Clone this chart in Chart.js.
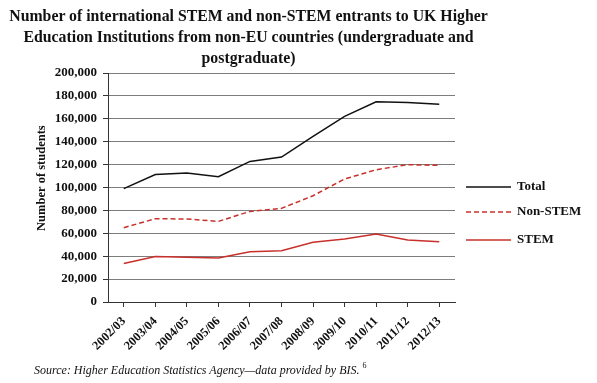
<!DOCTYPE html>
<html>
<head>
<meta charset="utf-8">
<script src="https://cdn.jsdelivr.net/npm/chart.js@4.4.1/dist/chart.umd.min.js"></script>
<style>
  html, body { margin: 0; padding: 0; background: #fff; }
  #wrap { position: relative; width: 597px; height: 383px; overflow: hidden; }
  #chart { position: absolute; left: 0; top: 0; }
  #title {
    position: absolute; left: 0; top: 5px; width: 497px; text-align: center;
    font-family: 'Liberation Serif', 'DejaVu Serif', serif; font-weight: bold;
    font-size: 15.8px; line-height: 21px; color: #111; white-space: nowrap;
  }
  #source {
    position: absolute; left: 34px; top: 361px;
    font-family: 'Liberation Serif', 'DejaVu Serif', serif; font-style: italic;
    font-size: 12px; color: #111; white-space: nowrap;
  }
  #source sup { font-size: 8px; font-style: normal; vertical-align: 6px; margin-left: 3px; }
</style>
</head>
<body>
<div id="wrap">
  <canvas id="chart" width="597" height="383"></canvas>
  <div id="title">Number of international STEM and non-STEM entrants to UK Higher<br>Education Institutions from non-EU countries (undergraduate and<br>postgraduate)</div>
  <div id="source">Source: Higher Education Statistics Agency—data provided by BIS.<sup>6</sup></div>
</div>
<script>
const years = ['2002/03', '2003/04', '2004/05', '2005/06', '2006/07', '2007/08', '2008/09', '2009/10', '2010/11', '2011/12', '2012/13'];
const totalValues = [99000, 111400, 112700, 109400, 122800, 126600, 144600, 162100, 174900, 174300, 172600];
const nonStemValues = [64900, 72700, 72500, 70400, 79100, 81800, 92800, 107400, 115500, 119900, 119300];
const stemValues = [33700, 39800, 39000, 38400, 43900, 44800, 52100, 55000, 59400, 54100, 52700];
const seriesNames = ['Total', 'Non-STEM', 'STEM'];
const yAxisTitle = 'Number of students';

const SERIF = "'Liberation Serif', 'DejaVu Serif', serif";
const RED = '#c8302a';

// legend drawn at the right of the plot, like the original
const sideLegend = {
  id: 'sideLegend',
  afterDraw(chart) {
    const ctx = chart.ctx;
    const rows = [187, 212, 240];
    ctx.save();
    chart.data.datasets.forEach((ds, i) => {
      const y = rows[i];
      ctx.beginPath();
      ctx.strokeStyle = ds.borderColor;
      ctx.lineWidth = ds.borderWidth;
      ctx.setLineDash(ds.borderDash || []);
      ctx.moveTo(466, y);
      ctx.lineTo(511, y);
      ctx.stroke();
      ctx.setLineDash([]);
      ctx.fillStyle = '#111';
      ctx.font = 'bold 13px ' + SERIF;
      ctx.textBaseline = 'middle';
      ctx.fillText(ds.label, 517, y);
    });
    ctx.restore();
  }
};

new Chart(document.getElementById('chart').getContext('2d'), {
  type: 'line',
  data: {
    labels: years,
    datasets: [
      { label: seriesNames[0], data: totalValues, borderColor: '#111', borderWidth: 1.5 },
      { label: seriesNames[1], data: nonStemValues, borderColor: RED, borderWidth: 1.5, borderDash: [5, 3] },
      { label: seriesNames[2], data: stemValues, borderColor: RED, borderWidth: 1.5 }
    ]
  },
  options: {
    responsive: false,
    animation: false,
    elements: { line: { tension: 0, fill: false }, point: { radius: 0, hoverRadius: 0 } },
    layout: { padding: { left: 30, right: 142, top: 73, bottom: 0 } },
    plugins: { legend: { display: false }, tooltip: { enabled: false } },
    scales: {
      x: {
        offset: true,
        afterFit: s => { s.height = 81; },
        grid: { drawOnChartArea: false, drawTicks: true, tickLength: 5, color: '#333' },
        border: { color: '#333', width: 1 },
        ticks: { color: '#111', maxRotation: 45, minRotation: 45, padding: 7, font: { family: SERIF, weight: 'bold', size: 12.5 } }
      },
      y: {
        min: 0, max: 200000,
        afterFit: s => { s.width = 78; },
        grid: { color: '#7d7d7d', lineWidth: 1, drawTicks: true, tickLength: 5, tickColor: '#333' },
        border: { color: '#333', width: 1 },
        title: { display: true, text: '      ' + yAxisTitle, color: '#111', font: { family: SERIF, weight: 'bold', size: 12.5 } },
        ticks: {
          stepSize: 20000, color: '#111', padding: 6,
          font: { family: SERIF, weight: 'bold', size: 13 },
          callback: v => v.toLocaleString('en-US')
        }
      }
    }
  },
  plugins: [sideLegend]
});
</script>
</body>
</html>
